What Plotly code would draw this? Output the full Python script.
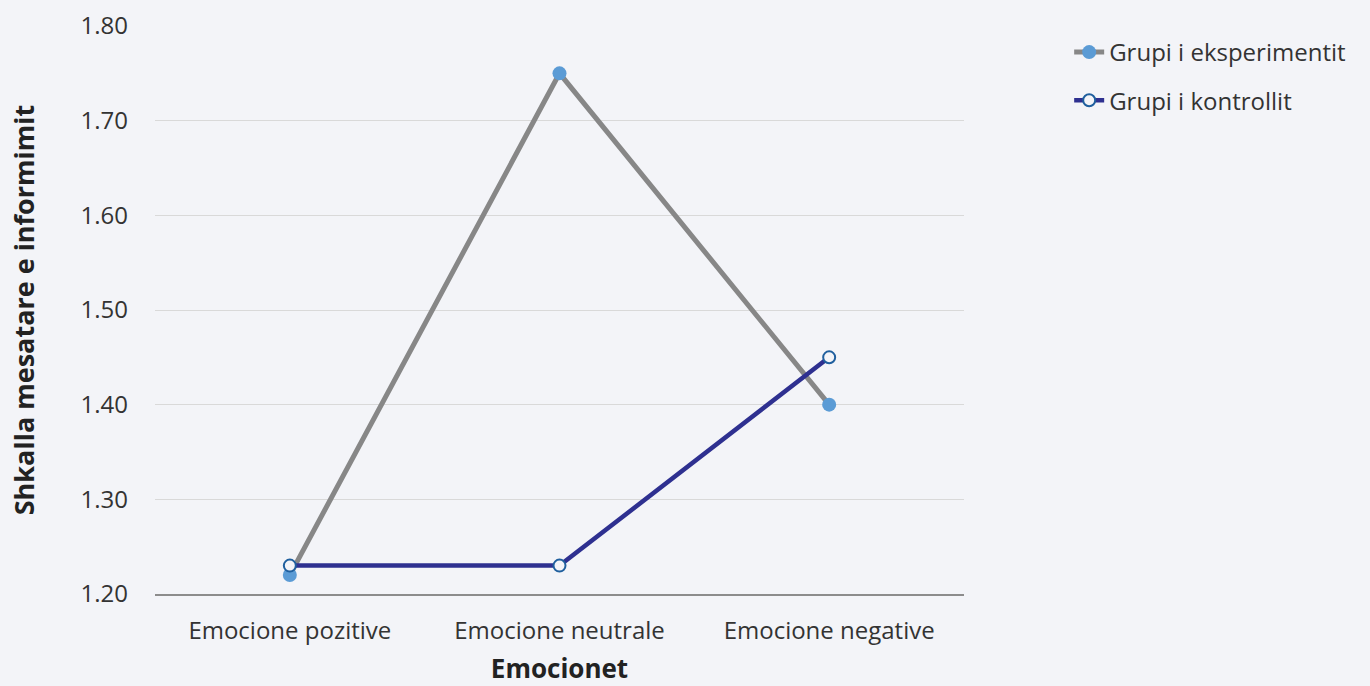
import plotly.graph_objects as go

categories = ["Emocione pozitive", "Emocione neutrale", "Emocione negative"]
eksperiment = [1.22, 1.75, 1.40]
kontroll = [1.23, 1.23, 1.45]
y_ticks = [1.20, 1.30, 1.40, 1.50, 1.60, 1.70, 1.80]

BG = "#f3f4f8"
FONT = "Open Sans"

fig = go.Figure()
fig.add_trace(go.Scatter(
    x=categories, y=eksperiment, name="Grupi i eksperimentit",
    mode="lines+markers", legendgroup="a",
    line=dict(color="#878787", width=5),
    marker=dict(color="#5b9bd5", size=14, line=dict(width=0)),
))
fig.add_trace(go.Scatter(
    x=categories, y=kontroll, name="Grupi i kontrollit",
    mode="lines+markers", legendgroup="b",
    line=dict(color="#2e3090", width=4.5),
    marker=dict(color=BG, size=12, line=dict(color="#1f5f9e", width=2)),
))

fig.update_layout(
    width=1370, height=686,
    paper_bgcolor=BG, plot_bgcolor=BG,
    margin=dict(l=155, r=406, t=26, b=92),
    font=dict(family=FONT, size=24, color="#333333"),
    showlegend=True,
    legend=dict(x=1.13, y=0.993, xanchor="left", yanchor="top",
                font=dict(size=24, color="#333333"),
                traceorder="grouped", tracegroupgap=14,
                bgcolor="rgba(0,0,0,0)"),
    xaxis=dict(
        type="category", range=[-0.5, 2.5], automargin=False,
        showgrid=False, showline=True, linecolor="#8c8c8c", linewidth=2,
        ticks="", tickfont=dict(size=24, color="#333333"), ticklabelstandoff=14,
        title=dict(text="<b>Emocionet</b>", font=dict(size=26, color="#222222"), standoff=20),
    ),
    yaxis=dict(
        range=[1.20, 1.80], tickvals=y_ticks, automargin=False,
        tickformat=".2f", showgrid=True, gridcolor="#d9d9d9", gridwidth=1,
        zeroline=False, showline=False, ticks="",
        tickfont=dict(size=24, color="#333333"), ticklabelstandoff=26,
        title=dict(text="<b>Shkalla mesatare e informimit</b>", font=dict(size=27, color="#222222"), standoff=38),
    ),
)

fig.write_html("out.html", config={"displayModeBar": False},
               post_script="document.body.style.margin='0';document.body.style.background='%s';" % BG)
